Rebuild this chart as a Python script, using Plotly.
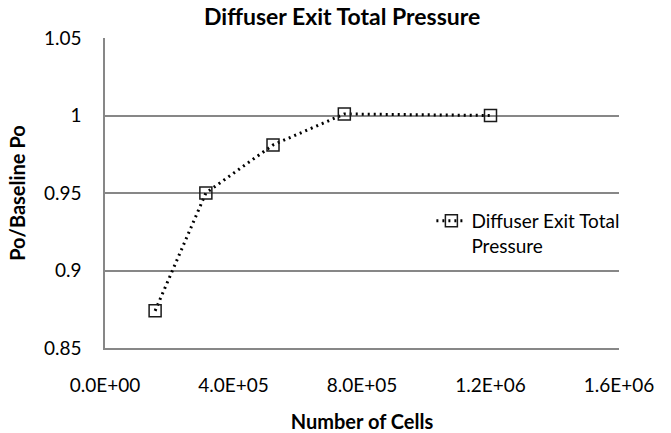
import plotly.graph_objects as go

# Grid-convergence study: exit total pressure vs. mesh size
cells = [1.56e5, 3.14e5, 5.23e5, 7.45e5, 1.20e6]
p0_ratio = [0.874, 0.950, 0.981, 1.001, 1.000]

x_ticks = [0, 4e5, 8e5, 1.2e6, 1.6e6]
x_tick_text = ["0.0E+00", "4.0E+05", "8.0E+05", "1.2E+06", "1.6E+06"]
y_ticks = [0.85, 0.90, 0.95, 1.00, 1.05]
y_tick_text = ["0.85", "0.9", "0.95", "1", "1.05"]

FONT = "Lato"
GRID = "#878787"

fig = go.Figure()
fig.add_trace(go.Scatter(
    x=cells, y=p0_ratio,
    mode="lines+markers",
    name="Diffuser Exit Total<br>Pressure",
    line=dict(color="#000000", width=3, dash="2px,4px"),
    marker=dict(symbol="square-open", size=12, color="#1a1a1a",
                line=dict(width=1.5)),
))

fig.update_layout(
    width=671, height=433,
    margin=dict(l=105, r=52, t=38, b=85, autoexpand=False),
    paper_bgcolor="white", plot_bgcolor="white",
    font=dict(family=FONT, size=19, color="#000000"),
    title=dict(text="<b>Diffuser Exit Total Pressure</b>",
               x=0.51, xanchor="center", y=0.962, yanchor="middle",
               font=dict(family=FONT, size=23)),
    showlegend=True,
    legend=dict(x=0.635, y=0.471, xanchor="left", yanchor="top",
                valign="top", bgcolor="rgba(0,0,0,0)",
                font=dict(family=FONT, size=19)),
    xaxis=dict(
        range=[0, 1.6e6], tickvals=x_ticks, ticktext=x_tick_text,
        showgrid=False, zeroline=False, automargin=False,
        showline=True, linecolor=GRID, linewidth=1.5,
        ticks="", ticklabelstandoff=19,
        title=dict(text="<b>Number of Cells</b>", standoff=20,
                   font=dict(family=FONT, size=20)),
    ),
    yaxis=dict(
        range=[0.85, 1.05], tickvals=y_ticks, ticktext=y_tick_text,
        showgrid=True, gridcolor=GRID, gridwidth=1.5, zeroline=False,
        automargin=False,
        showline=True, linecolor=GRID, linewidth=1.5,
        ticks="", ticklabelstandoff=18,
        title=dict(text="<b>Po/Baseline Po</b>", standoff=13,
                   font=dict(family=FONT, size=20)),
    ),
)

fig.write_html("out.html")
